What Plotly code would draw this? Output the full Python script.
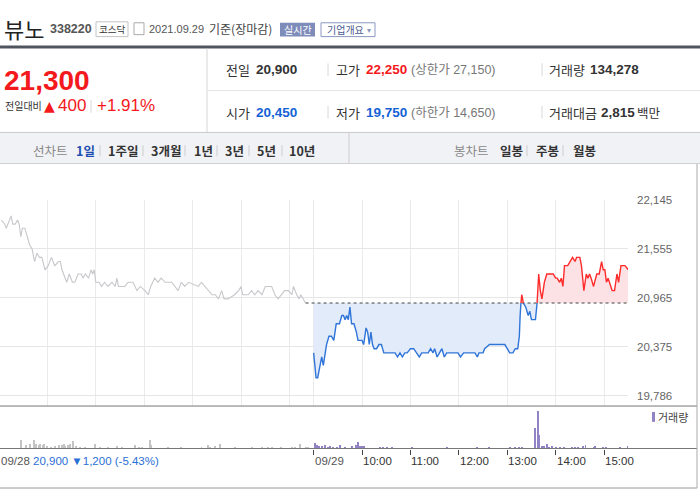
"""
뷰노 (338220) — 1일 선차트, Naver finance style
"""

import plotly.graph_objects as go

# -------------------------------------------------------
# Data
# -------------------------------------------------------
PREV_CLOSE = 20900

# 09/28 (전일) — minute closes
DAY1_TIMES = [
    "09:03", "09:07", "09:09", "09:11", "09:15", "09:17", "09:20", "09:23", "09:25", "09:27",
    "09:29", "09:32", "09:35", "09:38", "09:41", "09:44", "09:47", "09:50", "09:53", "09:57",
    "10:01", "10:05", "10:09", "10:14", "10:16", "10:18", "10:20", "10:24", "10:27", "10:31",
    "10:34", "10:38", "10:42", "10:44", "10:47", "10:51", "10:54", "10:56", "10:58", "11:00",
    "11:04", "11:07", "11:11", "11:15", "11:20", "11:24", "11:26", "11:28", "11:36", "11:40",
    "11:46", "11:51", "11:55", "12:01", "12:05", "12:08", "12:13", "12:17", "12:21", "12:26",
    "12:34", "12:38", "12:42", "12:46", "12:50", "12:55", "13:07", "13:11", "13:15", "13:19",
    "13:24", "13:28", "13:32", "13:36", "13:39", "13:44", "13:52", "13:57", "14:00", "14:02",
    "14:09", "14:13", "14:17", "14:21", "14:26", "14:30", "14:38", "14:42", "14:46", "14:54",
    "14:59", "15:03", "15:05", "15:09", "15:12", "15:14", "15:17", "15:20",
]
DAY1_PRICES = [
    21900, 21850, 21800, 21850, 21950, 21850, 21850, 21900, 21850, 21700,
    21800, 21800, 21700, 21600, 21550, 21400, 21500, 21450, 21450, 21300,
    21350, 21450, 21350, 21400, 21400, 21300, 21250, 21150, 21250, 21150,
    21150, 21250, 21250, 21200, 21250, 21200, 21300, 21250, 21300, 21150,
    21150, 21100, 21150, 21100, 21150, 21100, 21200, 21100, 21100, 21150,
    21150, 21050, 21100, 21050, 21000, 21100, 21200, 21150, 21200, 21150,
    21150, 21100, 21050, 21150, 21100, 21150, 21100, 21150, 21100, 21050,
    21000, 21000, 20950, 21050, 20950, 20950, 21000, 21050, 21100, 21000,
    21000, 21050, 21000, 21050, 21000, 21100, 21100, 21000, 20950, 21050,
    21050, 21000, 21100, 21000, 20950, 21000, 20950, 20900,
]

# 09/29 (당일)
DAY2_TIMES = [
    "09:00", "09:03", "09:05", "09:08", "09:10", "09:12", "09:14", "09:16", "09:19", "09:22",
    "09:25", "09:28", "09:32", "09:35", "09:37", "09:39", "09:41", "09:43", "09:45", "09:47",
    "09:50", "09:53", "09:55", "10:00", "10:02", "10:05", "10:07", "10:09", "10:11", "10:13",
    "10:15", "10:18", "10:21", "10:24", "10:27", "10:41", "10:44", "10:47", "10:50", "10:53",
    "10:56", "11:00", "11:04", "11:07", "11:11", "11:14", "11:22", "11:25", "11:28", "11:30",
    "11:33", "11:36", "11:39", "11:42", "11:45", "11:59", "12:02", "12:06", "12:20", "12:23",
    "12:25", "12:30", "12:32", "12:38", "12:57", "13:00", "13:03", "13:07", "13:10", "13:13",
    "13:15", "13:16", "13:17", "13:18", "13:20", "13:23", "13:26", "13:28", "13:30", "13:35",
    "13:37", "13:39", "13:41", "13:43", "13:46", "13:49", "13:53", "13:57", "14:00", "14:02",
    "14:05", "14:07", "14:09", "14:11", "14:15", "14:18", "14:21", "14:24", "14:26", "14:30",
    "14:32", "14:35", "14:38", "14:40", "14:42", "14:44", "14:47", "14:51", "14:54", "14:57",
    "14:59", "15:01", "15:03", "15:05", "15:07", "15:10", "15:13", "15:16", "15:18", "15:21",
    "15:26", "15:30",
]
DAY2_PRICES = [
    20300, 20000, 20000, 20150, 20250, 20150, 20300, 20400, 20500, 20500,
    20450, 20650, 20650, 20750, 20750, 20700, 20750, 20700, 20850, 20650,
    20650, 20550, 20450, 20450, 20400, 20600, 20550, 20400, 20550, 20400,
    20350, 20350, 20400, 20400, 20300, 20300, 20250, 20300, 20250, 20300,
    20300, 20350, 20350, 20300, 20250, 20300, 20300, 20350, 20300, 20350,
    20250, 20300, 20350, 20250, 20300, 20300, 20250, 20300, 20300, 20250,
    20300, 20300, 20350, 20400, 20400, 20350, 20300, 20300, 20350, 20350,
    20500, 20750, 20900, 21000, 20900, 20850, 20750, 20800, 20700, 20700,
    20900, 21250, 21050, 20950, 21150, 21250, 21250, 21250, 21200, 21200,
    21150, 21200, 21100, 21350, 21350, 21400, 21450, 21400, 21450, 21450,
    21350, 21050, 21250, 21200, 21250, 21200, 21100, 21250, 21250, 21400,
    21300, 21300, 21150, 21200, 21150, 21050, 21050, 21250, 21150, 21350,
    21350, 21300,
]

# 거래량
VOL1_TIMES = [
    "09:27", "09:33", "09:38", "09:43", "09:46", "09:49", "09:51", "09:54", "09:56", "09:59",
    "10:05", "10:09", "10:14", "10:18", "10:20", "10:22", "10:26", "10:28", "10:32", "10:35",
    "10:40", "10:46", "10:59", "11:05", "11:15", "11:26", "11:32", "11:48", "11:53", "11:57",
    "12:07", "12:09", "12:30", "12:46", "13:11", "13:19", "13:21", "13:28", "13:34", "13:52",
    "14:13", "14:26", "14:34", "14:38", "14:50", "15:03", "15:07", "15:13", "15:20", "15:23",
]
VOL1 = [
    4850, 1700, 2600, 4850, 2600, 1700, 2250, 1700, 2250, 1300,
    750, 1300, 1700, 1700, 2250, 1300, 1700, 2250, 3900, 1300,
    750, 750, 2600, 750, 750, 1300, 750, 1700, 750, 750,
    4850, 1700, 750, 750, 750, 1700, 750, 1300, 2250, 750,
    750, 750, 750, 750, 750, 750, 750, 2250, 750, 750,
]
VOL2_TIMES = [
    "09:02", "09:04", "09:07", "09:10", "09:14", "09:18", "09:20", "09:24", "09:29", "09:33",
    "09:39", "09:47", "09:53", "09:55", "09:57", "10:00", "10:02", "10:22", "10:26", "10:31",
    "10:37", "11:02", "11:45", "12:22", "12:37", "13:03", "13:10", "13:14", "13:18", "13:35",
    "13:38", "13:39", "13:43", "13:45", "13:49", "13:52", "13:55", "14:01", "14:05", "14:10",
    "14:20", "14:24", "14:28", "14:34", "14:37", "14:47", "14:49", "14:59", "15:03", "15:20",
    "15:30",
]
VOL2 = [
    3200, 1700, 1300, 1300, 1700, 750, 1300, 750, 750, 1700,
    750, 1300, 1700, 3500, 1300, 1300, 1300, 750, 750, 750,
    750, 750, 750, 750, 750, 750, 750, 750, 750, 11000,
    20300, 7250, 1300, 1300, 2250, 750, 1300, 750, 750, 750,
    750, 750, 750, 1300, 1700, 750, 1300, 750, 750, 750,
    1300,
]

Y_TICKS = [19786, 20375, 20965, 21555, 22145]
HOUR_LABELS = ["09/29", "10:00", "11:00", "12:00", "13:00", "14:00", "15:00"]

# -------------------------------------------------------
# Colors / fonts
# -------------------------------------------------------
RED = "#f3191c"
BLUE = "#1462d6"
LINE_BLUE = "#2f74d8"
LINE_RED = "#ff2b2b"
GRAY_LINE = "#c7c7cc"
FILL_BLUE = "#e2ebf9"
FILL_RED = "#fde2e5"
VOL_GRAY = "#c4c4c4"
VOL_PURPLE = "#9282c6"
KR = "Noto Sans CJK KR"
NUM = "Liberation Sans, Noto Sans CJK KR"

W, H = 700, 490


def px(x):
    return x / W


def py(y):
    return 1 - y / H


def hhmm(t):
    h, m = t.split(":")
    return (int(h) - 9) * 60 + int(m)


def to_x(day, times):
    # each trading day = 390 minutes (09:00 ~ 15:30)
    return [day * 390 + hhmm(t) for t in times]


def text(x, y, s, size=12, color="#333", family=KR, bold=False, xanchor="left", xref="paper"):
    if bold:
        s = f"<b>{s}</b>"
    return dict(
        x=px(x) if xref == "paper" else x, y=py(y), xref=xref, yref="paper",
        text=s, showarrow=False, xanchor=xanchor, yanchor="middle",
        font=dict(size=size, color=color, family=family), borderpad=0,
    )


def rect(x0, y0, x1, y1, fill=None, line=None, width=1):
    return dict(
        type="rect", xref="paper", yref="paper",
        x0=px(x0), x1=px(x1), y0=py(y0), y1=py(y1),
        fillcolor=fill or "rgba(0,0,0,0)",
        line=dict(color=line or "rgba(0,0,0,0)", width=width if line else 0),
        layer="above",
    )


def hline(y, x0, x1, color, width=1, dash="solid"):
    return dict(type="line", xref="paper", yref="paper", x0=px(x0), x1=px(x1),
                y0=py(y), y1=py(y), line=dict(color=color, width=width, dash=dash))


def vline(x, y0, y1, color, width=1):
    return dict(type="line", xref="paper", yref="paper", x0=px(x), x1=px(x),
                y0=py(y0), y1=py(y1), line=dict(color=color, width=width))


# -------------------------------------------------------
# Traces
# -------------------------------------------------------
x1 = to_x(0, DAY1_TIMES)
x2 = to_x(1, DAY2_TIMES)
base = [PREV_CLOSE] * len(DAY2_PRICES)
fill_lo = [min(p, PREV_CLOSE) for p in DAY2_PRICES]
fill_hi = [max(p, PREV_CLOSE) for p in DAY2_PRICES]
below = [p if p <= PREV_CLOSE else None for p in DAY2_PRICES]
above = [p if p >= PREV_CLOSE else None for p in DAY2_PRICES]

fig = go.Figure()
noline = dict(width=0, color="rgba(0,0,0,0)")
fig.add_trace(go.Scatter(x=x2, y=base, mode="lines", line=noline, hoverinfo="skip"))
fig.add_trace(go.Scatter(x=x2, y=fill_lo, mode="lines", line=noline, fill="tonexty",
                         fillcolor=FILL_BLUE, hoverinfo="skip"))
fig.add_trace(go.Scatter(x=x2, y=base, mode="lines", line=noline, hoverinfo="skip"))
fig.add_trace(go.Scatter(x=x2, y=fill_hi, mode="lines", line=noline, fill="tonexty",
                         fillcolor=FILL_RED, hoverinfo="skip"))

fig.add_trace(go.Scatter(x=x1, y=DAY1_PRICES, mode="lines",
                         line=dict(color=GRAY_LINE, width=1.1)))
fig.add_trace(go.Scatter(x=[x1[-1], x2[-1]], y=[PREV_CLOSE, PREV_CLOSE], mode="lines",
                         line=dict(color="#444", width=1, dash="dot")))
fig.add_trace(go.Scatter(x=x2, y=below, mode="lines", connectgaps=False,
                         line=dict(color=LINE_BLUE, width=1.4)))
fig.add_trace(go.Scatter(x=x2, y=above, mode="lines", connectgaps=False,
                         line=dict(color=LINE_RED, width=1.4)))

fig.add_trace(go.Bar(x=to_x(0, VOL1_TIMES), y=VOL1, width=1.2, marker_color=VOL_GRAY,
                     marker_line_width=0, xaxis="x2", yaxis="y2"))
fig.add_trace(go.Bar(x=to_x(1, VOL2_TIMES), y=VOL2, width=1.2, marker_color=VOL_PURPLE,
                     marker_line_width=0, xaxis="x2", yaxis="y2"))

# -------------------------------------------------------
# Axes
# -------------------------------------------------------
X_RANGE = [1.2, 779.7]
hour_x = to_x(1, ["09:00", "10:00", "11:00", "12:00", "13:00", "14:00", "15:00"])
grid_x = [60, 120, 180, 240, 300, 360] + hour_x

fig.update_layout(
    width=W, height=H,
    margin=dict(l=0, r=0, t=0, b=0),
    paper_bgcolor="white", plot_bgcolor="white",
    showlegend=False, hovermode=False,
    bargap=0,
    xaxis=dict(domain=[0, px(628)], range=X_RANGE, tickvals=grid_x, showticklabels=False,
               showgrid=True, gridcolor="#ebebeb", gridwidth=1, zeroline=False, fixedrange=True),
    yaxis=dict(domain=[py(405), py(196)], range=[19659, 22146], side="right",
               tickvals=Y_TICKS, ticktext=[f"{v:,}" for v in Y_TICKS],
               ticklabelstandoff=8, showgrid=True, gridcolor="#e6e6e6", zeroline=False,
               tickfont=dict(size=11.5, color="#666", family="Liberation Sans")),
    xaxis2=dict(domain=[0, px(628)], range=X_RANGE, anchor="y2", tickvals=hour_x,
                showticklabels=False, ticks="outside", ticklen=5, tickcolor="#444",
                showgrid=False, zeroline=False),
    yaxis2=dict(domain=[py(448), py(405)], range=[0, 23000], anchor="x2", visible=False),
)

# -------------------------------------------------------
# Page decoration: header, info table, tabs, frame
# -------------------------------------------------------
shapes = [
    rect(0, 40, 700, 43, fill="#4f545e"),
    # info box
    vline(207, 43, 128, "#d6d6d6"),
    hline(85.5, 207, 700, "#e6e6e6"),
    vline(328, 58, 71, "#d8d8d8"),
    vline(542, 58, 71, "#d8d8d8"),
    vline(328, 101, 114, "#d8d8d8"),
    vline(542, 101, 114, "#d8d8d8"),
    vline(91, 95, 108, "#d8d8d8"),
    # tab bar
    rect(0, 128, 700, 160, fill="#f1f2f6"),
    hline(128, 0, 700, "#c9c9c9"),
    hline(159.5, 0, 700, "#cfcfcf"),
    vline(349, 128, 160, "#cfcfcf"),
    # chart frame
    hline(405, 0, 697, "#777"),
    hline(448, 0, 697, "#777"),
    hline(488, 0, 697, "#999"),
    vline(697, 160, 488, "#aaa"),
    # header boxes
    rect(96, 16, 128, 31, line="#c4c4c4"),
    rect(134, 17, 144, 29, line="#aaa"),
    rect(280, 17, 315, 31, fill="#7e8cba"),
    rect(321, 17, 375, 31, line="#8c97c2"),
    # volume legend swatch
    rect(652, 411, 655, 421, fill=VOL_PURPLE),
]
for sx in [100, 143, 185, 217, 249, 282, 527, 563]:
    shapes.append(vline(sx, 141, 152, "#cccccc"))

anns = [
    text(3, 22, "뷰노", 22, "#222"),
    text(49, 23, "338220", 12.5, "#555", NUM, bold=True),
    text(112, 23.5, "코스닥", 9.5, "#333", xanchor="center"),
    text(148, 23, "2021.09.29", 11, "#555", NUM),
    text(208, 23, "기준(장마감)", 12, "#444"),
    text(297.5, 24, "실시간", 10, "white", xanchor="center"),
    text(326, 24, "기업개요", 10, "#4a5990"),
    text(366, 24, "▾", 8, "#8c97c2"),
    # big price
    text(3, 75, "21,300", 28, RED, NUM, bold=True),
    text(4, 101, "전일대비", 10, "#333"),
    text(43, 101, "▲", 14, RED, "DejaVu Sans"),
    text(57, 101, "400", 17, RED, NUM),
    text(96, 101, "+1.91%", 17, RED, NUM),
    # row 1
    text(225, 64.5, "전일", 13, "#333"),
    text(255, 64.5, "20,900", 13.5, "#333", NUM, bold=True),
    text(335, 64.5, "고가", 13, "#333"),
    text(365, 64.5, "22,250", 13.5, RED, NUM, bold=True),
    text(410, 64.5, "(상한가 27,150)", 12.5, "#777", NUM),
    text(548, 64.5, "거래량", 13, "#333"),
    text(589, 64.5, "134,278", 13.5, "#333", NUM, bold=True),
    # row 2
    text(225, 108, "시가", 13, "#333"),
    text(255, 108, "20,450", 13.5, BLUE, NUM, bold=True),
    text(335, 108, "저가", 13, "#333"),
    text(365, 108, "19,750", 13.5, BLUE, NUM, bold=True),
    text(410, 108, "(하한가 14,650)", 12.5, "#777", NUM),
    text(548, 108, "거래대금", 13, "#333"),
    text(600, 108, "2,815", 13.5, "#333", NUM, bold=True),
    text(636, 108, "백만", 12.5, "#333"),
    # tabs
    text(32, 146.5, "선차트", 12.5, "#888"),
    text(75, 146.5, "1일", 12.5, "#1d4fb0", bold=True),
    text(107, 146.5, "1주일", 12.5, "#333", bold=True),
    text(150, 146.5, "3개월", 12.5, "#333", bold=True),
    text(193, 146.5, "1년", 12.5, "#333", bold=True),
    text(224, 146.5, "3년", 12.5, "#333", bold=True),
    text(256, 146.5, "5년", 12.5, "#333", bold=True),
    text(288, 146.5, "10년", 12.5, "#333", bold=True),
    text(453, 146, "봉차트", 12.5, "#888"),
    text(499, 146, "일봉", 12.5, "#333", bold=True),
    text(535, 146, "주봉", 12.5, "#333", bold=True),
    text(572, 146, "월봉", 12.5, "#333", bold=True),
    # bottom labels
    text(0, 461, "09/28", 11.5, "#555", "Liberation Sans"),
    text(32, 461, "20,900 ▼1,200 (-5.43%)", 11.5, "#2a6fd6", "Liberation Sans, DejaVu Sans"),
    text(657, 416, "거래량", 11, "#444"),
]
for hx, lab in zip(hour_x, HOUR_LABELS):
    a = text(hx, 461, lab, 11.5, "#555" if "/" in lab else "#333", "Liberation Sans", xref="x2")
    anns.append(a)

fig.update_layout(shapes=shapes, annotations=anns)

fig.write_html("out.html", config={"displayModeBar": False},
               post_script="document.body.style.margin='0';")
